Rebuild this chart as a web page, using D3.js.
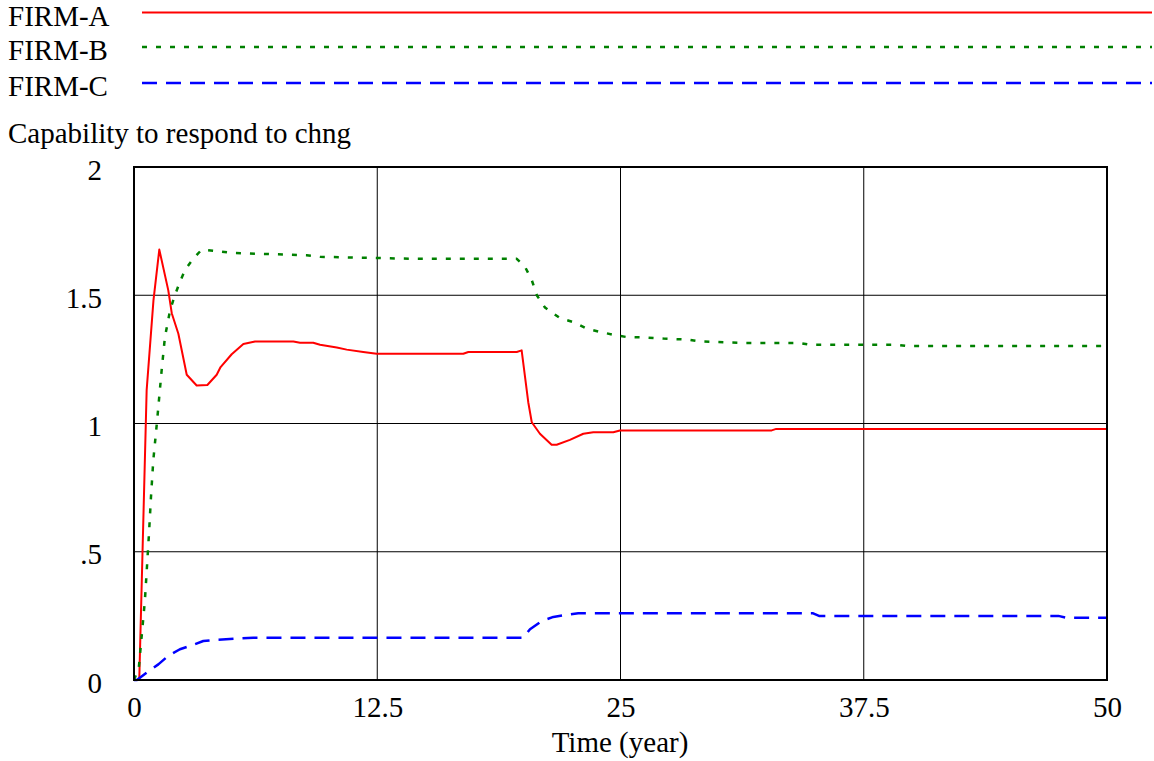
<!DOCTYPE html>
<html>
<head>
<meta charset="utf-8">
<script src="https://cdn.jsdelivr.net/npm/d3@7"></script>
<style>
  html, body { margin: 0; padding: 0; background: #fff; }
  svg text { font-family: "Liberation Serif", "Times New Roman", serif; fill: #000; }
</style>
</head>
<body>
<svg id="chart" width="1154" height="761"></svg>
<script>
// ---- data ----
const seriesNames = ["FIRM-A", "FIRM-B", "FIRM-C"];
const seriesColors = ["#ff0000", "#008000", "#0000ff"];
const xTicks = [0, 12.5, 25, 37.5, 50];
const xTickLabels = ["0", "12.5", "25", "37.5", "50"];
const yTicks = [0, 0.5, 1, 1.5, 2];
const yTickLabels = ["0", ".5", "1", "1.5", "2"];
const yTitle = "Capability to respond to chng";
const xTitle = "Time (year)";

const firmATime = [0, 0.27, 0.65, 1.0, 1.3, 1.76, 1.94, 2.28, 2.71, 3.22, 3.77, 4.25, 4.45, 5.02, 5.62, 6.22, 8.19, 8.53, 9.21, 9.56, 10.42, 10.93, 11.78, 12.47, 16.92, 17.18, 19.67, 19.92, 20.26, 20.44, 20.86, 21.46, 21.72, 22.4, 23.09, 23.6, 24.63, 24.97, 32.77, 33.0, 50];
const firmAValue = [0, 0, 1.13, 1.48, 1.678, 1.52, 1.43, 1.35, 1.19, 1.148, 1.15, 1.19, 1.22, 1.27, 1.31, 1.32, 1.32, 1.315, 1.315, 1.307, 1.296, 1.288, 1.279, 1.272, 1.272, 1.279, 1.279, 1.285, 1.083, 1.005, 0.96, 0.917, 0.917, 0.936, 0.96, 0.966, 0.966, 0.973, 0.973, 0.979, 0.979];

const firmBTime = [0, 0.25, 0.56, 0.77, 0.87, 0.99, 1.18, 1.42, 1.59, 1.85, 2.1, 2.36, 2.62, 3.05, 3.48, 4.16, 5.02, 8.87, 9.56, 14.35, 19.67, 20.1, 20.44, 20.7, 21.12, 21.89, 22.66, 23.26, 23.95, 24.63, 25.32, 26.17, 27.2, 28.49, 29.09, 31.31, 34.2, 34.74, 39.2, 39.71, 50];
const firmBValue = [0, 0.05, 0.31, 0.57, 0.71, 0.855, 1.005, 1.207, 1.337, 1.44, 1.5, 1.552, 1.598, 1.643, 1.678, 1.673, 1.665, 1.656, 1.65, 1.642, 1.642, 1.61, 1.559, 1.5, 1.452, 1.411, 1.393, 1.37, 1.357, 1.346, 1.337, 1.336, 1.331, 1.327, 1.32, 1.314, 1.314, 1.307, 1.307, 1.302, 1.302];

const firmCTime = [0, 0.15, 0.65, 1.25, 1.76, 2.36, 2.97, 3.56, 4.33, 5.53, 6.13, 20.0, 20.35, 20.95, 21.55, 22.15, 22.83, 34.9, 35.2, 47.5, 47.9, 50];
const firmCValue = [0, 0, 0.029, 0.061, 0.094, 0.12, 0.135, 0.152, 0.157, 0.163, 0.165, 0.165, 0.198, 0.23, 0.246, 0.253, 0.26, 0.26, 0.25, 0.25, 0.243, 0.243];

// ---- layout ----
const FS = 29;
const svg = d3.select("#chart");
const margin = { left: 134, right: 1107, top: 167, bottom: 680 };
const x = d3.scaleLinear().domain([0, 50]).range([margin.left, margin.right]);
const y = d3.scaleLinear().domain([0, 2]).range([margin.bottom, margin.top]);

// legend
const legendY = [12.5, 47, 83];
const dashes = [null, "5,9", "15,9"];
const widths = [2, 2.5, 2.5];
seriesNames.forEach((name, i) => {
  svg.append("text").attr("x", 8).attr("y", legendY[i] + 13)
    .attr("font-size", FS).text(name);
  const ln = svg.append("line").attr("x1", 142).attr("x2", 1152)
    .attr("y1", legendY[i]).attr("y2", legendY[i])
    .attr("stroke", seriesColors[i]).attr("stroke-width", widths[i]);
  if (dashes[i]) ln.attr("stroke-dasharray", dashes[i]);
});

// y title
svg.append("text").attr("x", 8).attr("y", 143).attr("font-size", FS).text(yTitle);

// gridlines
const g = svg.append("g");
g.selectAll("line.gx").data(xTicks.slice(1, -1)).enter().append("line")
  .attr("x1", d => x(d)).attr("x2", d => x(d))
  .attr("y1", margin.top).attr("y2", margin.bottom)
  .attr("stroke", "#000").attr("stroke-width", 1);
g.selectAll("line.gy").data(yTicks.slice(1, -1)).enter().append("line")
  .attr("y1", d => y(d)).attr("y2", d => y(d))
  .attr("x1", margin.left).attr("x2", margin.right)
  .attr("stroke", "#000").attr("stroke-width", 1);

// axes (labels via d3 axis)
const xAxis = d3.axisBottom(x).tickValues(xTicks).tickFormat((d, i) => xTickLabels[i]).tickSize(0).tickPadding(16);
const xg = svg.append("g").attr("transform", `translate(0,${margin.bottom})`).call(xAxis);
xg.select(".domain").remove();
xg.selectAll("text").attr("font-size", FS).attr("font-family", "Liberation Serif");

const yAxis = d3.axisLeft(y).tickValues(yTicks).tickFormat((d, i) => yTickLabels[i]).tickSize(0).tickPadding(32);
const yg = svg.append("g").attr("transform", `translate(${margin.left},0)`).call(yAxis);
yg.select(".domain").remove();
yg.selectAll("text").attr("font-size", FS).attr("font-family", "Liberation Serif").attr("dy", "0.42em");

svg.append("text").attr("x", 620).attr("y", 752).attr("text-anchor", "middle")
  .attr("font-size", FS).text(xTitle);

// lines
const line = d3.line().x(d => x(d[0])).y(d => y(d[1]));
const allT = [firmATime, firmBTime, firmCTime];
const allV = [firmAValue, firmBValue, firmCValue];
const plot = svg.append("g");
allT.forEach((ts, i) => {
  const pts = ts.map((t, j) => [t, allV[i][j]]);
  const p = plot.append("path").datum(pts).attr("d", line)
    .attr("fill", "none").attr("stroke", seriesColors[i])
    .attr("stroke-width", widths[i]).attr("stroke-linejoin", "round");
  if (dashes[i]) p.attr("stroke-dasharray", dashes[i]);
});

// frame
svg.append("rect").attr("x", margin.left).attr("y", margin.top)
  .attr("width", margin.right - margin.left).attr("height", margin.bottom - margin.top)
  .attr("fill", "none").attr("stroke", "#000").attr("stroke-width", 2);
</script>
</body>
</html>
